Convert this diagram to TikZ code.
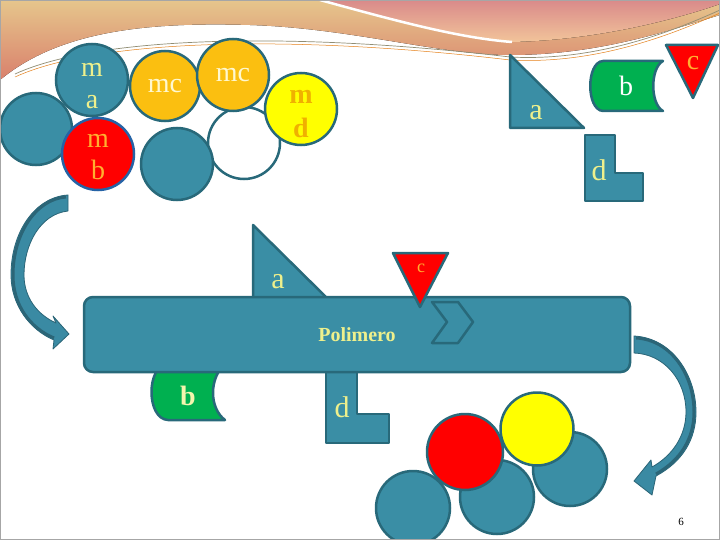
\documentclass[tikz,border=0pt]{standalone}
\usepackage{fontspec}
\setmainfont{Liberation Serif}
\definecolor{tealfill}{HTML}{3A8EA5}
\definecolor{tealdark}{HTML}{28697A}
\definecolor{arrowfill}{HTML}{3A8AA3}
\definecolor{arrowdark}{HTML}{2B6577}
\definecolor{orangefill}{HTML}{FBBF10}
\definecolor{yellowfill}{HTML}{FFFF00}
\definecolor{redfill}{HTML}{FF0000}
\definecolor{greenfill}{HTML}{00B050}
\definecolor{bluerim}{HTML}{2563A6}
\definecolor{txtyel}{HTML}{EEF08C}
\definecolor{txtorange}{HTML}{FFB030}
\definecolor{txtgold}{HTML}{F0B000}
\definecolor{txtcream}{HTML}{FFF8D0}
\definecolor{bgtan}{HTML}{E6C68C}
\definecolor{bgsalmon}{HTML}{D9806C}
\definecolor{bgpink}{HTML}{D98A8A}
\definecolor{bgorange}{HTML}{F2C49A}
\begin{document}
\begin{tikzpicture}[x=1pt,y=-1pt,
  circ/.style={circle, minimum size=72pt, inner sep=0pt, line width=2.5pt, draw=tealdark, align=center, font=\fontsize{28}{32}\selectfont},
  ctxt/.style={inner sep=0pt, align=center, font=\fontsize{28}{32}\selectfont},
  shp/.style={line width=2.5pt, draw=tealdark, line join=round},
  lbl/.style={inner sep=0pt, font=\fontsize{30}{34}\selectfont, text=txtyel},
  arr/.style={fill=arrowfill, draw=arrowdark, line width=0.8pt, line join=round}]
\useasboundingbox (0,0) rectangle (720,540);
\clip (0,0) rectangle (720,540);
\fill[white] (0,0) rectangle (720,540);
% background swoosh
\fill[top color=bgtan, bottom color=bgsalmon] (0,0) -- (720,0) -- (720,15) .. controls (670,30) and (600,55) .. (510,55) .. controls (440,55) and (350,28) .. (250,25) .. controls (150,22) and (60,30) .. (0,80) -- cycle;
\fill[top color=bgpink, bottom color=bgorange] (320,0) .. controls (400,22) and (460,38) .. (512,42) .. controls (600,40) and (680,18) .. (720,4) -- (720,0) -- cycle;
\draw[white, line width=2.5pt] (320,0) .. controls (400,22) and (460,38) .. (512,42);
\draw[gray!80!olive, line width=0.7pt] (15,74) .. controls (100,35) and (300,32) .. (510,57) .. controls (600,62) and (680,28) .. (720,10);
\draw[orange!60!brown, line width=0.5pt] (15,77) .. controls (100,38) and (300,35) .. (510,60) .. controls (600,65) and (680,31) .. (720,13);
% top cluster of circles
\node[circ, fill=tealfill] (lt) at (36,129) {};
\node[circ, fill=tealfill] (ma) at (92,80) {};
\node[ctxt, text=txtyel] (mat) at (92,86) {m\\a};
\node[circ, fill=redfill, draw=bluerim] (mb) at (98,154) {};
\node[ctxt, text=txtorange] (mbt) at (98,157) {m\\b};
\node[circ, fill=orangefill, text=txtcream, minimum size=70pt] (mc1) at (165,86) {mc};
\node[circ, fill=white] (wh) at (244,143) {};
\node[circ, fill=orangefill, text=txtcream] (mc2) at (233,75) {mc};
\node[circ, fill=yellowfill] (md) at (301,109) {};
\node[ctxt, text=txtgold, font=\bfseries\fontsize{28}{34}\selectfont] (mdt) at (301,114) {m\\d};
\node[circ, fill=tealfill] (tl) at (177,164) {};
% top-right shapes
\draw[shp, fill=tealfill] (510,55) -- (510,128) -- (584,128) -- cycle;
\node[lbl] (ta) at (536,113) {a};
\draw[shp, fill=greenfill] (603,61) .. controls (586,62) and (586,110) .. (603,111) -- (663,111) .. controls (650,104) and (650,68) .. (663,61) -- cycle;
\node[lbl, text=white, font=\fontsize{28}{32}\selectfont] (tb) at (626,86) {b};
\draw[shp, fill=redfill] (666,45) -- (718,45) -- (693,98) -- cycle;
\node[lbl, text=txtorange, font=\fontsize{28}{32}\selectfont] (tc) at (693,63) {c};
\draw[shp, fill=tealfill] (585,135) -- (615,135) -- (615,173) -- (643,173) -- (643,201) -- (585,201) -- cycle;
\node[lbl] (td) at (599,170) {d};
% curved arrows
\draw[arr] (68,195) -- (68,211) .. controls (40,214) and (24,245) .. (24,275) .. controls (24,298) and (38,315) .. (56,323) -- (53,316) -- (69,334) -- (53,349) -- (54,340) .. controls (30,330) and (11,305) .. (11,275) .. controls (11,232) and (35,197) .. (68,195) -- cycle;
\draw[arrowdark, line width=3pt] (54,338) .. controls (30,328) and (13,305) .. (13,275) .. controls (13,234) and (36,199) .. (66,197);
\draw[arr] (634,336) .. controls (672,338) and (696,375) .. (696,412) .. controls (696,440) and (682,462) .. (656,476) -- (652,495) -- (634,481) -- (651,460) -- (652,467) .. controls (672,456) and (686,436) .. (686,412) .. controls (686,380) and (664,354) .. (634,353) -- cycle;
\draw[arrowdark, line width=3pt] (636,338) .. controls (672,340) and (694,376) .. (694,412) .. controls (694,438) and (681,460) .. (656,474);
% shapes behind the bar
\draw[shp, fill=tealfill] (253,225) -- (253,302) -- (331,302) -- cycle;
\node[lbl] (la) at (278,282) {a};
\draw[shp, fill=greenfill] (168,364) .. controls (146,365) and (146,419) .. (168,420) -- (225,420) .. controls (209,408) and (209,378) .. (225,364) -- cycle;
\node[lbl, text=txtyel!70!white, font=\bfseries\fontsize{28}{32}\selectfont] (lb) at (188,396) {b};
\draw[shp, fill=tealfill] (326,362) -- (357,362) -- (357,414) -- (389,414) -- (389,443) -- (326,443) -- cycle;
\node[lbl] (ld) at (342,407) {d};
% main bar
\draw[shp, fill=tealfill, rounded corners=9pt] (84,297) rectangle (630,372);
\node[inner sep=0pt, text=txtyel, font=\bfseries\fontsize{20}{24}\selectfont] (pol) at (357,335) {Polimero};
\draw[shp, fill=tealfill] (432,302) -- (458,302) -- (473,322) -- (458,343) -- (432,343) -- (447,322) -- cycle;
\draw[shp, fill=redfill] (393,253) -- (448,253) -- (420,307) -- cycle;
\node[inner sep=0pt, text=txtorange, font=\fontsize{18}{20}\selectfont] (lc) at (421,268) {c};
% bottom cluster
\node[circ, fill=tealfill, minimum size=74pt] (b1) at (413,508) {};
\node[circ, fill=tealfill, minimum size=74pt] (b2) at (497,497) {};
\node[circ, fill=tealfill, minimum size=74pt] (b3) at (570,469) {};
\node[circ, fill=redfill, minimum size=76pt] (bred) at (465,452) {};
\node[circ, fill=yellowfill, minimum size=73pt] (byel) at (537,429) {};
% page number and frame
\node[inner sep=0pt, font=\fontsize{11}{12}\selectfont] (pg) at (681,522) {6};
\draw[gray!70, line width=1pt] (0.5,0.5) rectangle (719.5,539.5);
\end{tikzpicture}
\end{document}
